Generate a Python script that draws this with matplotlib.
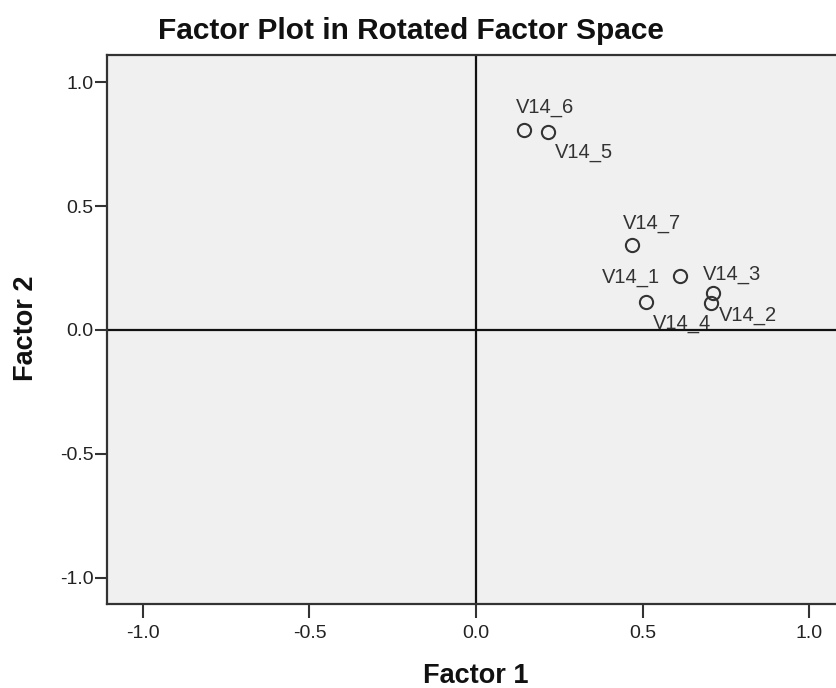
import matplotlib
matplotlib.use("Agg")
import matplotlib.pyplot as plt

# rotated factor loadings
labels = ["V14_1", "V14_2", "V14_3", "V14_4", "V14_5", "V14_6", "V14_7"]
factor1 = [0.613, 0.705, 0.712, 0.511, 0.216, 0.144, 0.468]
factor2 = [0.218, 0.109, 0.149, 0.113, 0.798, 0.806, 0.343]
ticks = [-1.0, -0.5, 0.0, 0.5, 1.0]

# label offsets in pixels (dx, dy) and horizontal alignment
label_pos = {
    "V14_1": (-20, -7, "right"),
    "V14_2": (8, -18, "left"),
    "V14_3": (-10, 13, "left"),
    "V14_4": (7, -27, "left"),
    "V14_5": (7, -26, "left"),
    "V14_6": (-8, 17, "left"),
    "V14_7": (-9, 16, "left"),
}

plt.rcParams["font.family"] = ["Liberation Sans", "DejaVu Sans"]
W, H = 837, 688
fig = plt.figure(figsize=(W / 100, H / 100), dpi=100)
ax = fig.add_axes([107 / W, (H - 604) / H, (W - 107) / W, (604 - 55) / H])
ax.set_facecolor("#f0f0f0")
ax.set_xlim(-1.108, 1.084)
ax.set_ylim(-1.105, 1.109)

ax.axhline(0, color="#111111", lw=1.6, zorder=1)
ax.axvline(0, color="#111111", lw=1.6, zorder=1)

ax.plot(factor1, factor2, "o", ms=9.5, mfc="none", mec="#333333", mew=1.5, zorder=3)
for lab, x, y in zip(labels, factor1, factor2):
    dx, dy, ha = label_pos[lab]
    ax.annotate(lab, (x, y), xytext=(dx * 0.72, dy * 0.72), textcoords="offset points",
                ha=ha, va="baseline", fontsize=14.5, color="#333333")

for s in ["left", "bottom", "top"]:
    ax.spines[s].set_color("#333333")
    ax.spines[s].set_linewidth(1.6)
ax.spines["right"].set_visible(False)

ax.set_xticks(ticks)
ax.set_yticks(ticks)
ax.set_xticklabels([f"{t:.1f}" for t in ticks])
ax.set_yticklabels([f"{t:.1f}" for t in ticks])
ax.tick_params(axis="x", length=10, width=1.5, color="#333333", labelsize=14,
               labelcolor="#222222", pad=5)
ax.tick_params(axis="y", length=8.5, width=1.5, color="#333333", labelsize=14,
               labelcolor="#222222", pad=1)

fig.text(411 / W, (H - 39) / H, "Factor Plot in Rotated Factor Space", ha="center",
         va="baseline", fontsize=21.5, fontweight="bold", color="#111111")
fig.text(476 / W, (H - 683) / H, "Factor 1", ha="center", va="baseline",
         fontsize=19.5, fontweight="bold", color="#111111")
fig.text(33 / W, (H - 328) / H, "Factor 2", ha="center", va="baseline", rotation=90,
         rotation_mode="anchor", fontsize=19.5, fontweight="bold", color="#111111")

fig.savefig("out.png", dpi=100)
